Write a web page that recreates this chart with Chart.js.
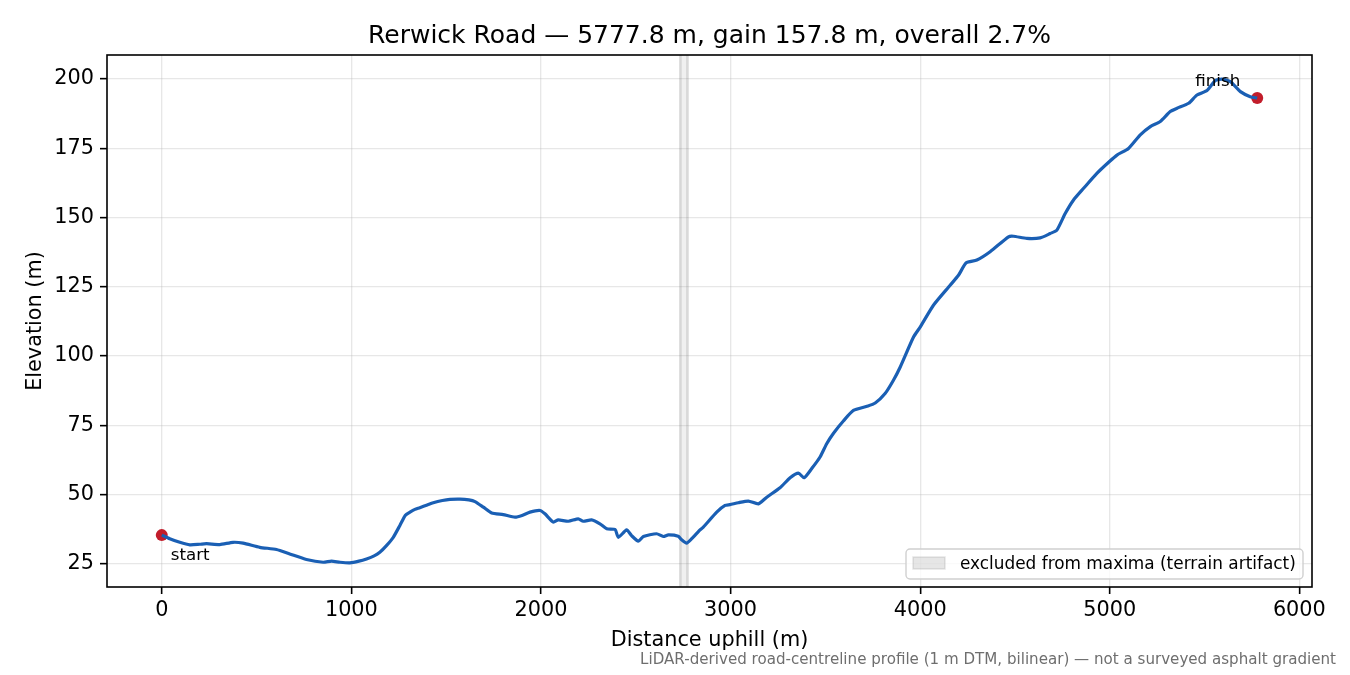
<!DOCTYPE html>
<html>
<head>
<meta charset="utf-8">
<script src="https://cdn.jsdelivr.net/npm/chart.js@4.4.1/dist/chart.umd.min.js"></script>
<style>
  html, body { margin: 0; padding: 0; background: #fff; }
  canvas { display: block; }
</style>
</head>
<body>
<canvas id="profile" width="1350" height="675"></canvas>
<script>
// distance along the road (m) and elevation (m)
const distance = [
  0, 42, 95, 148, 200, 236, 306, 376, 429, 517, 605, 675, 763, 851, 895, 940, 992,
  1040, 1080, 1120, 1150, 1185, 1221, 1256, 1285, 1309, 1335, 1361, 1400, 1432, 1480,
  1520, 1573, 1620, 1652, 1696, 1740, 1801, 1863, 1900, 1942, 1995, 2021, 2065, 2091,
  2144, 2197, 2223, 2267, 2311, 2347, 2391, 2408, 2452, 2478, 2514, 2540, 2610, 2645,
  2672, 2724, 2742, 2768, 2795, 2839, 2855, 2927, 2971, 2997, 3041, 3094, 3147, 3191,
  3261, 3314, 3358, 3388, 3430, 3472, 3507, 3543, 3595, 3648, 3719, 3763, 3815, 3859,
  3895, 3965, 4000, 4070, 4158, 4202, 4243, 4299, 4369, 4466, 4492, 4563, 4633, 4686,
  4721, 4765, 4809, 4862, 4932, 4997, 5038, 5099, 5161, 5214, 5266, 5319, 5355, 5416,
  5460, 5513, 5557, 5592, 5636, 5689, 5741, 5777.8
];
const elevation = [
  35.3, 34.0, 32.7, 31.8, 32.0, 32.2, 31.9, 32.7, 32.4, 30.9, 30.1, 28.5, 26.5, 25.5, 25.9, 25.5, 25.3,
  25.9, 26.7, 27.8, 29.1, 31.5, 34.5, 38.8, 42.5, 43.6, 44.6, 45.2, 46.2, 47.0, 47.8,
  48.2, 48.3, 48.0, 47.4, 45.4, 43.3, 42.7, 41.8, 42.4, 43.6, 44.2, 43.0, 40.0, 40.8,
  40.3, 41.2, 40.3, 40.8, 39.4, 37.6, 37.3, 34.5, 37.2, 35.1, 33.1, 34.8, 35.8, 34.8,
  35.4, 34.9, 33.6, 32.4, 34.0, 37.2, 38.1, 43.6, 46.0, 46.3, 47.0, 47.6, 46.6, 49.0,
  52.4, 56.0, 57.7, 56.0, 59.5, 63.5, 68.3, 72.1, 76.5, 80.3, 81.8, 83.0, 86.4, 91.2,
  96.0, 106.8, 110.4, 118.3, 125.5, 129.1, 133.6, 134.6, 137.6, 143.0, 143.2, 142.4, 142.6, 144.2,
  145.4, 151.4, 156.3, 160.5, 165.9, 170.1, 172.5, 174.9, 179.8, 182.8, 184.6, 188.2, 189.4, 191.2,
  194.2, 195.8, 199.4, 199.9, 199.0, 195.4, 193.6, 193.1
];
const excludedBand = [2735, 2773];
const xTicks = [0, 1000, 2000, 3000, 4000, 5000, 6000];
const yTicks = [25, 50, 75, 100, 125, 150, 175, 200];

const titleText = 'Rerwick Road \u2014 5777.8 m, gain 157.8 m, overall 2.7%';
const footText = 'LiDAR-derived road-centreline profile (1 m DTM, bilinear) \u2014 not a surveyed asphalt gradient';
const legendText = 'excluded from maxima (terrain artifact)';

const FONT = '"DejaVu Sans", sans-serif';
const BLUE = '#1a5fb4';
const RED = '#c21d2b';
const GRID = 'rgba(176,176,176,0.3)';

const span = distance[distance.length - 1] - distance[0];
const eMin = Math.min(...elevation), eMax = Math.max(...elevation);
const eSpan = eMax - eMin;

const linePts = distance.map((d, i) => ({ x: d, y: elevation[i] }));
const last = distance.length - 1;
const endPts = [
  { x: distance[0], y: elevation[0] },
  { x: distance[last], y: elevation[last] }
];

const extras = {
  id: 'extras',
  beforeDatasetsDraw(chart) {
    const { ctx, chartArea: a, scales: { x } } = chart;
    const x0 = x.getPixelForValue(excludedBand[0]);
    const x1 = x.getPixelForValue(excludedBand[1]);
    ctx.save();
    ctx.fillStyle = 'rgba(128,128,128,0.12)';
    ctx.fillRect(x0, a.top, x1 - x0, a.bottom - a.top);
    ctx.strokeStyle = 'rgba(128,128,128,0.25)';
    ctx.lineWidth = 2.6;
    ctx.beginPath();
    ctx.moveTo(x0, a.top); ctx.lineTo(x0, a.bottom);
    ctx.moveTo(x1, a.top); ctx.lineTo(x1, a.bottom);
    ctx.stroke();
    ctx.restore();
  },
  afterDraw(chart) {
    const { ctx, chartArea: a, scales: { x, y } } = chart;
    ctx.save();
    // frame
    ctx.strokeStyle = '#000';
    ctx.lineWidth = 1.6;
    ctx.strokeRect(a.left, a.top, a.right - a.left, a.bottom - a.top);

    ctx.fillStyle = '#000';
    ctx.textAlign = 'center';
    ctx.textBaseline = 'alphabetic';
    ctx.font = '25px ' + FONT;
    ctx.fillText(titleText, (a.left + a.right) / 2, 43);

    ctx.font = '20.8px ' + FONT;
    ctx.fillText('Distance uphill (m)', (a.left + a.right) / 2, 646);
    ctx.save();
    ctx.translate(41, (a.top + a.bottom) / 2);
    ctx.rotate(-Math.PI / 2);
    ctx.fillText('Elevation (m)', 0, 0);
    ctx.restore();

    // start / finish labels
    ctx.font = '16.7px ' + FONT;
    const sx = x.getPixelForValue(distance[0]), sy = y.getPixelForValue(elevation[0]);
    ctx.textAlign = 'left';
    ctx.fillText('start', sx + 9, sy + 24.5);
    const fx = x.getPixelForValue(distance[last]), fy = y.getPixelForValue(elevation[last]);
    ctx.textAlign = 'right';
    ctx.fillText('finish', fx - 17, fy - 12.5);

    // legend
    const lx = 906, ly = 549, lw = 397, lh = 30;
    ctx.fillStyle = 'rgba(255,255,255,0.8)';
    ctx.strokeStyle = '#d0d0d0';
    ctx.lineWidth = 1.4;
    ctx.beginPath();
    ctx.roundRect(lx, ly, lw, lh, 4);
    ctx.fill();
    ctx.stroke();
    ctx.fillStyle = 'rgba(128,128,128,0.2)';
    ctx.fillRect(913, 557, 32, 12);
    ctx.strokeStyle = 'rgba(128,128,128,0.2)';
    ctx.lineWidth = 1.5;
    ctx.strokeRect(913, 557, 32, 12);
    ctx.fillStyle = '#000';
    ctx.textAlign = 'left';
    ctx.font = '16.9px ' + FONT;
    ctx.fillText(legendText, 960, 568.5);

    // footnote
    ctx.fillStyle = '#6e6e6e';
    ctx.textAlign = 'right';
    ctx.font = '15.1px ' + FONT;
    ctx.fillText(footText, 1336, 664);
    ctx.restore();
  }
};

new Chart(document.getElementById('profile'), {
  type: 'line',
  data: {
    datasets: [
      {
        data: linePts,
        borderColor: BLUE,
        borderWidth: 3.2,
        pointRadius: 0,
        tension: 0.2,
        fill: false
      },
      {
        type: 'scatter',
        data: endPts,
        backgroundColor: RED,
        borderColor: RED,
        pointRadius: 6,
        pointBorderWidth: 0
      }
    ]
  },
  options: {
    responsive: false,
    animation: false,
    devicePixelRatio: 1,
    layout: { padding: { top: 55, right: 38, bottom: 0, left: 0 } },
    plugins: { legend: { display: false }, title: { display: false }, tooltip: { enabled: false } },
    scales: {
      x: {
        type: 'linear',
        min: distance[0] - span * 0.05,
        max: distance[last] + span * 0.05,
        afterFit(s) { s.height = 88; },
        afterBuildTicks(s) { s.ticks = xTicks.map(v => ({ value: v })); },
        grid: { color: GRID, lineWidth: 1.3, tickColor: '#000', tickLength: 7, tickWidth: 1.6 },
        border: { display: false },
        ticks: { color: '#000', font: { family: FONT, size: 20.8 }, padding: 4, maxRotation: 0, callback: v => String(v) }
      },
      y: {
        type: 'linear',
        min: eMin - eSpan * 0.05,
        max: eMax + eSpan * 0.05,
        afterFit(s) { s.width = 107; },
        afterBuildTicks(s) { s.ticks = yTicks.map(v => ({ value: v })); },
        grid: { color: GRID, lineWidth: 1.3, tickColor: '#000', tickLength: 7, tickWidth: 1.6 },
        border: { display: false },
        ticks: { color: '#000', font: { family: FONT, size: 20.8 }, padding: 6, callback: v => String(v) }
      }
    }
  },
  plugins: [extras]
});
</script>
</body>
</html>
